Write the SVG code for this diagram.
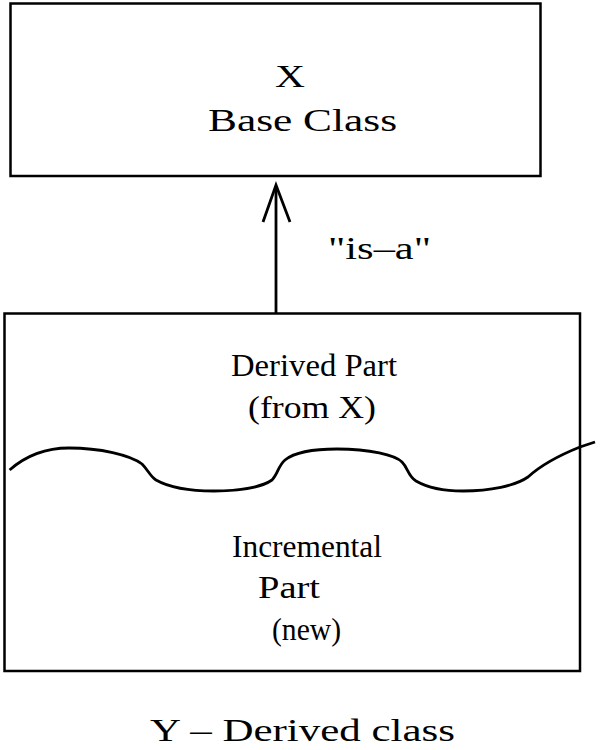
<svg xmlns="http://www.w3.org/2000/svg" width="600" height="750" viewBox="0 0 600 750">
<style>
.box{fill:none;stroke:#000;stroke-width:2.5}
.t{font-family:"Liberation Serif","Times New Roman",serif;font-size:32px;fill:#000}
.ln{fill:none;stroke:#000;stroke-width:2.8}
</style>
<rect width="600" height="750" fill="#fff"/>
<g id="base">
<rect class="box" x="10.5" y="3.5" width="530" height="172.5"/>
<text class="t" x="275" y="87" textLength="30" lengthAdjust="spacingAndGlyphs">X</text>
<text class="t" x="208" y="131" textLength="189" lengthAdjust="spacingAndGlyphs">Base Class</text>
</g>
<g id="derived">
<rect class="box" x="4.5" y="313.5" width="575.5" height="357.5"/>
<text class="t" x="231" y="376" textLength="166" lengthAdjust="spacingAndGlyphs">Derived Part</text>
<text class="t" x="248" y="418" textLength="128" lengthAdjust="spacingAndGlyphs">(from X)</text>
<path class="ln" d="M9.6 470 C30 452,50 448,69 448 C100 448,130 455,142 464 C148 470,150 476,156 480 C170 488,190 491,214 491 C240 491,262 487,272 480 C278 474,278 466,285 460 C295 452,315 449,337 449 C370 449,395 455,402 462 C408 468,408 476,416 481 C428 488,445 491,463 491 C490 491,515 486,528 477 C540 466,560 455,580 447 L595 442"/>
<text class="t" x="232" y="557" textLength="150" lengthAdjust="spacingAndGlyphs">Incremental</text>
<text class="t" x="258" y="598" textLength="62" lengthAdjust="spacingAndGlyphs">Part</text>
<text class="t" x="272" y="640" textLength="69" lengthAdjust="spacingAndGlyphs">(new)</text>
</g>
<g id="connectors">
<line class="ln" x1="276" y1="313" x2="276" y2="186"/>
<polyline class="ln" points="263,222 276,185 290,222"/>
<text class="t" x="328" y="259" textLength="103" lengthAdjust="spacingAndGlyphs">"is–a"</text>
</g>
<g id="caption">
<text class="t" x="150" y="741" textLength="305" lengthAdjust="spacingAndGlyphs">Y – Derived class</text>
</g>
</svg>
